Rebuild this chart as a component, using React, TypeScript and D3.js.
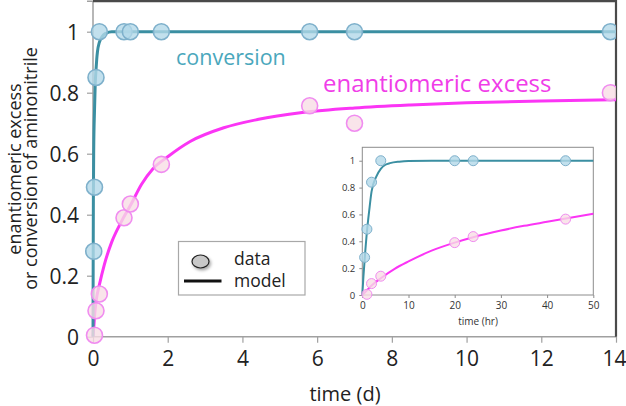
import React, { useEffect, useRef } from "react";
import * as d3 from "d3";

// main plot data, time in days
const convDays = [0.02, 0.04, 0.08, 0.17, 0.83, 1.0, 1.83, 5.8, 7.0, 13.85];
const convVals = [0.28, 0.49, 0.85, 1, 1, 1, 1, 1, 1, 1];
const eeDays = [0.04, 0.08, 0.17, 0.83, 1.0, 1.83, 5.8, 7.0, 13.85];
const eeVals = [0.005, 0.085, 0.14, 0.39, 0.435, 0.565, 0.757, 0.7, 0.8];

// model curves
const convModelDays = [0, 0.005, 0.01, 0.02, 0.04, 0.06, 0.083, 0.1, 0.12, 0.17, 0.25, 0.35, 0.5, 14];
const convModelVals = [0, 0.25, 0.45, 0.62, 0.74, 0.83, 0.88, 0.91, 0.935, 0.965, 0.985, 0.995, 1, 1];
const eeModelDays = [0, 0.02, 0.05, 0.1, 0.17, 0.3, 0.5, 0.75, 1.0, 1.3, 1.6, 2.0, 2.6, 3.5, 4.4, 5.6, 7, 8.5, 10, 12, 14];
const eeModelVals = [0, 0.03, 0.08, 0.13, 0.17, 0.235, 0.31, 0.375, 0.43, 0.5, 0.55, 0.59, 0.64, 0.685, 0.712, 0.735, 0.75, 0.76, 0.767, 0.773, 0.777];

// inset data, time in hours
const convHours = [0.5, 1, 2, 4, 20, 24, 44];
const convHoursVals = [0.28, 0.49, 0.84, 1, 1, 1, 1];
const eeHours = [1, 2, 4, 20, 24, 44];
const eeHoursVals = [0.005, 0.085, 0.14, 0.39, 0.435, 0.565];
const convModelHours = [0, 0.25, 0.5, 1, 1.5, 2, 3, 4, 5, 6, 8, 10, 15, 50];
const convModelHoursVals = [0, 0.14, 0.26, 0.47, 0.63, 0.77, 0.88, 0.94, 0.97, 0.982, 0.993, 0.998, 1, 1];
const eeModelHours = [0, 1, 2, 4, 7, 10, 15, 20, 24, 30, 35, 40, 45, 50];
const eeModelHoursVals = [0, 0.035, 0.07, 0.125, 0.195, 0.25, 0.33, 0.39, 0.43, 0.48, 0.515, 0.545, 0.575, 0.605];

const xTicks = [0, 2, 4, 6, 8, 10, 12, 14];
const yTicks = [0, 0.2, 0.4, 0.6, 0.8, 1];
const insetXTicks = [0, 10, 20, 30, 40, 50];

const FONT = "'Open Sans', sans-serif";
const TEAL = "#3b8fa2";
const MAGENTA = "#fb35f5";

const App = () => {
  const svgRef = useRef(null);

  useEffect(() => {
    const svg = d3.select(svgRef.current);
    svg.selectAll("*").remove();

    const defs = svg.append("defs");
    const f = defs.append("filter").attr("id", "shadow").attr("x", "-50%").attr("y", "-50%").attr("width", "200%").attr("height", "200%");
    f.append("feDropShadow").attr("dx", 1.5).attr("dy", 2).attr("stdDeviation", 1.5).attr("flood-color", "#000").attr("flood-opacity", 0.35);
    defs.append("clipPath").attr("id", "plotclip").append("rect").attr("x", 80).attr("y", 0).attr("width", 536).attr("height", 350);

    const x = d3.scaleLinear().domain([0, 14]).range([93, 616]);
    const y = d3.scaleLinear().domain([0, 1.1]).range([336.7, 1.2]);

    // left and bottom axes
    const gy = svg.append("g").attr("transform", `translate(${x(0)},0)`)
      .call(d3.axisLeft(y).tickValues(yTicks).tickSize(6).tickPadding(8).tickFormat((d) => (d === 0 || d === 1 ? String(d) : d3.format(".1f")(d))));
    gy.select(".domain").attr("stroke", "#a0a0a0").attr("stroke-width", 1.5).attr("d", `M-6,${y(1.1)}H0V${y(0)}`);
    gy.selectAll(".tick line").attr("stroke", "#a0a0a0").attr("stroke-width", 1.2);
    gy.selectAll(".tick text").attr("font-family", FONT).attr("font-size", 21).attr("fill", "#222").attr("dy", "0.35em");

    const gx = svg.append("g").attr("transform", `translate(0,${y(0)})`)
      .call(d3.axisBottom(x).tickValues(xTicks).tickSize(6).tickPadding(8).tickFormat(d3.format("d")));
    gx.select(".domain").attr("stroke", "#a0a0a0").attr("stroke-width", 1.5).attr("d", `M${x(0)},0H${x(14)}`);
    gx.selectAll(".tick line").attr("stroke", "#a0a0a0").attr("stroke-width", 1.2);
    gx.selectAll(".tick text").attr("font-family", FONT).attr("font-size", 21).attr("fill", "#222").attr("dy", "0.75em");
    // last label sits against the window edge in the reference
    gx.selectAll(".tick text").filter((d) => d === 14).attr("text-anchor", "end").attr("dx", 10);

    // dark top and right frame
    svg.append("path").attr("d", `M${x(0)},${y(1.1)}H${x(14)}V${y(0)}`).attr("fill", "none").attr("stroke", "#4a4a4a").attr("stroke-width", 2.2);

    // axis titles
    svg.append("text").attr("x", 345).attr("y", 401).attr("text-anchor", "middle")
      .attr("font-family", FONT).attr("font-size", 20).attr("fill", "#222").text("time (d)");
    const yl = svg.append("g").attr("transform", "rotate(-90)").attr("font-family", FONT).attr("font-size", 18).attr("fill", "#222").attr("text-anchor", "middle");
    yl.append("text").attr("x", -169).attr("y", 21).text("enantiomeric excess");
    yl.append("text").attr("x", -168.5).attr("y", 37).text("or conversion of aminonitrile");

    const plot = svg.append("g").attr("clip-path", "url(#plotclip)");
    const line = (xs, ys, sx, sy) =>
      d3.line().x((d) => sx(xs[d])).y((d) => sy(ys[d])).curve(d3.curveMonotoneX)(d3.range(xs.length));

    plot.append("path").attr("d", line(eeModelDays, eeModelVals, x, y)).attr("fill", "none").attr("stroke", MAGENTA).attr("stroke-width", 3);
    plot.append("path").attr("d", line(convModelDays, convModelVals, x, y)).attr("fill", "none").attr("stroke", TEAL).attr("stroke-width", 3);

    const dots = (g, xs, ys, sx, sy, r, fill, stroke, sw) =>
      g.append("g").selectAll("circle").data(d3.range(xs.length)).enter().append("circle")
        .attr("cx", (i) => sx(xs[i])).attr("cy", (i) => sy(ys[i])).attr("r", r)
        .attr("fill", fill).attr("fill-opacity", 0.8).attr("stroke", stroke).attr("stroke-width", sw);

    dots(plot, eeDays, eeVals, x, y, 8, "#f8dde5", "#f08cf0", 1.6);
    dots(plot, convDays, convVals, x, y, 8, "#b3d8e8", "#7eb0cb", 1.6);

    // series labels
    svg.append("text").attr("x", 176).attr("y", 65).attr("font-family", FONT).attr("font-size", 21.5).attr("fill", "#4aa7bc").text("conversion");
    svg.append("text").attr("x", 323).attr("y", 92).attr("font-family", FONT).attr("font-size", 24).attr("fill", "#f03de8").text("enantiomeric excess");

    // legend
    const lg = svg.append("g");
    lg.append("rect").attr("x", 178.5).attr("y", 241.5).attr("width", 126.5).attr("height", 53.5).attr("fill", "#fff").attr("stroke", "#a8a8a8").attr("stroke-width", 1.2);
    lg.append("ellipse").attr("cx", 200.5).attr("cy", 261.5).attr("rx", 8.5).attr("ry", 6.5).attr("fill", "#c8c8c8").attr("stroke", "#222").attr("stroke-width", 1.2).attr("filter", "url(#shadow)");
    lg.append("line").attr("x1", 184).attr("x2", 221.5).attr("y1", 281).attr("y2", 281).attr("stroke", "#111").attr("stroke-width", 3);
    lg.append("text").attr("x", 234).attr("y", 265).attr("font-family", FONT).attr("font-size", 17.5).attr("fill", "#222").text("data");
    lg.append("text").attr("x", 234).attr("y", 287).attr("font-family", FONT).attr("font-size", 17.5).attr("fill", "#222").text("model");

    // inset
    const ix = d3.scaleLinear().domain([0, 50]).range([362.3, 593.3]);
    const iy = d3.scaleLinear().domain([0, 1.1]).range([295, 147.3]);
    const inset = svg.append("g");
    inset.append("rect").attr("x", ix(0)).attr("y", iy(1.1)).attr("width", ix(50) - ix(0)).attr("height", iy(0) - iy(1.1))
      .attr("fill", "#fff").attr("stroke", "#8c8c8c").attr("stroke-width", 1);
    const iya = inset.append("g").attr("transform", `translate(${ix(0)},0)`)
      .call(d3.axisLeft(iy).tickValues(yTicks).tickSize(3).tickPadding(4).tickFormat((d) => (d === 0 || d === 1 ? String(d) : d3.format(".1f")(d))));
    iya.select(".domain").remove();
    iya.selectAll(".tick line").attr("stroke", "#8c8c8c");
    iya.selectAll(".tick text").attr("font-family", FONT).attr("font-size", 9.5).attr("fill", "#333");
    const ixa = inset.append("g").attr("transform", `translate(0,${iy(0)})`)
      .call(d3.axisBottom(ix).tickValues(insetXTicks).tickSize(3).tickPadding(4).tickFormat(d3.format("d")));
    ixa.select(".domain").remove();
    ixa.selectAll(".tick line").attr("stroke", "#8c8c8c");
    ixa.selectAll(".tick text").attr("font-family", FONT).attr("font-size", 10).attr("fill", "#333");
    inset.append("text").attr("x", 478).attr("y", 325).attr("text-anchor", "middle")
      .attr("font-family", FONT).attr("font-size", 10).attr("fill", "#333").text("time (hr)");

    inset.append("path").attr("d", line(eeModelHours, eeModelHoursVals, ix, iy)).attr("fill", "none").attr("stroke", MAGENTA).attr("stroke-width", 2);
    inset.append("path").attr("d", line(convModelHours, convModelHoursVals, ix, iy)).attr("fill", "none").attr("stroke", TEAL).attr("stroke-width", 2);
    dots(inset, eeHours, eeHoursVals, ix, iy, 5, "#f8dde5", "#f08cf0", 1);
    dots(inset, convHours, convHoursVals, ix, iy, 5, "#b3d8e8", "#7eb0cb", 1);
  }, []);

  return (
    <svg ref={svgRef} width={626} height={406} style={{ position: "absolute", left: 0, top: 0, background: "#fff" }} />
  );
};

export default App;
